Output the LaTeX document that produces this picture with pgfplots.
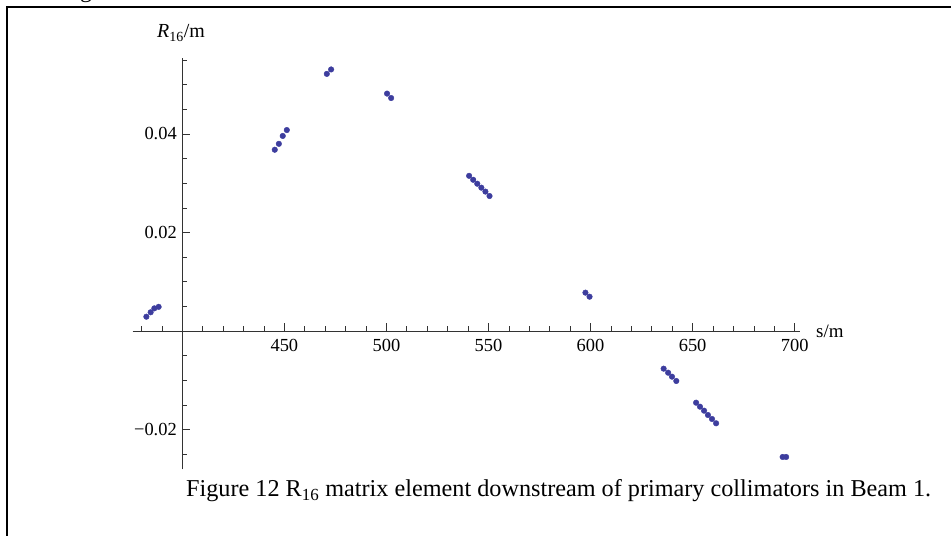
\documentclass[border=0pt]{standalone}
\usepackage{pgfplots}
\pgfplotsset{compat=1.18}
\usepackage{fontspec}
\setmainfont{Liberation Serif}
\definecolor{ptblue}{rgb}{0.24,0.24,0.62}
\begin{document}
\begin{tikzpicture}[x=1bp,y=1bp]
\path[use as bounding box] (0,0) rectangle (951,536);
% frame (top and left borders)
\draw[line width=1.6bp] (951,529) -- (7,529) -- (7,0);
\begin{scope}
\clip (8,530) rectangle (951,536);
\node[anchor=base west,inner sep=0pt,font=\fontsize{24}{28}\selectfont] at (60,538) {Figure};
\end{scope}
\begin{axis}[
  scale only axis,
  width=667.7bp, height=411.5bp,
  anchor=origin, at={(182.3bp,205bp)},
  xmin=-24.3, xmax=302.8,
  ymin=-0.02812, ymax=0.05543,
  axis lines=middle,
  axis line style={-, line width=0.7bp, black!80},
  tick style={line width=0.7bp, black!80},
  tick align=inside,
  major tick length=8bp,
  minor tick length=5bp,
  scaled y ticks=false,
  scaled x ticks=false,
  xtick={50,100,150,200,250,300},
  xticklabels={450,500,550,600,650,700},
  minor xtick={-20,-10,10,20,30,40,60,70,80,90,110,120,130,140,160,170,180,190,210,220,230,240,260,270,280,290},
  ytick={-0.02,0.02,0.04},
  yticklabels={−0.02,0.02,0.04},
  minor ytick={-0.025,-0.015,-0.01,-0.005,0,0.005,0.01,0.015,0.025,0.03,0.035,0.045,0.05,0.055},
  /pgf/number format/assume math mode=true,
  ticklabel style={font=\fontsize{18.5}{21}\selectfont, text=black},
  xticklabel style={yshift=-5bp},
  yticklabel style={xshift=-2bp},
  clip=false,
]
\addplot[only marks, mark=*, mark size=2.8bp, color=ptblue, mark options={draw=ptblue, fill=ptblue}] coordinates {
 (-17.6,0.0029) (-15.5,0.0038) (-13.7,0.0046) (-11.6,0.0049)
 (45.3,0.0368) (47.3,0.0380) (49.2,0.0396) (51.2,0.0408)
 (70.8,0.0522) (72.9,0.0531)
 (100.3,0.0482) (102.3,0.0473)
 (140.5,0.0315) (142.5,0.0307) (144.5,0.0299) (146.5,0.0291) (148.5,0.0283) (150.5,0.0274)
 (197.5,0.00778) (199.5,0.00696)
 (235.8,-0.00765) (238.0,-0.00847) (239.9,-0.00928) (242.0,-0.01015)
 (251.7,-0.01456) (253.6,-0.01537) (255.6,-0.01618) (257.5,-0.01706) (259.5,-0.01787) (261.5,-0.01874)
 (294.1,-0.02558) (295.8,-0.02558)
};
\end{axis}
\node[anchor=base, inner sep=0pt, font=\fontsize{20}{24}\selectfont] at (181,498) {\textit{R}\textsubscript{16}/m};
\node[anchor=base west, inner sep=0pt, font=\fontsize{19}{22}\selectfont] at (816,198) {s/m};
\node[anchor=base west, inner sep=0pt, font=\fontsize{24.3}{28}\selectfont] at (186,39) {Figure 12 R\textsubscript{16} matrix element downstream of primary collimators in Beam 1.};
\end{tikzpicture}
\end{document}
